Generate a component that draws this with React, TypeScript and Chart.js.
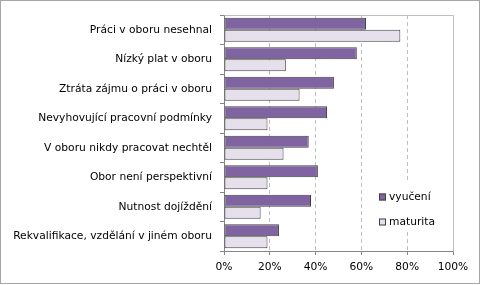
import React, { useEffect, useRef } from "react";
import { Chart, registerables } from "chart.js";

Chart.register(...registerables);

const categories = [
  "Práci v oboru nesehnal",
  "Nízký plat v oboru",
  "Ztráta zájmu o práci v oboru",
  "Nevyhovující pracovní podmínky",
  "V oboru nikdy pracovat nechtěl",
  "Obor není perspektivní",
  "Nutnost dojíždění",
  "Rekvalifikace, vzdělání v jiném oboru",
];
const vyuceni = [62, 58, 48, 45, 37, 41, 38, 24];
const maturita = [77, 27, 33, 19, 26, 19, 16, 19];
const seriesNames = ["vyučení", "maturita"];
const xTicks = [0, 20, 40, 60, 80, 100];

const FONT = "'DejaVu Sans', Verdana, sans-serif";
const COL_A = "#8064A2";
const COL_B = "#E6E0EC";
const EDGE = "#404040";

const framePlugin = {
  id: "frame",
  beforeDraw(chart: any) {
    const { ctx, width, height } = chart;
    ctx.save();
    ctx.fillStyle = "#ffffff";
    ctx.fillRect(0, 0, width, height);
    ctx.strokeStyle = "#A6A6A6";
    ctx.lineWidth = 1;
    ctx.strokeRect(0.5, 0.5, 479, 283);
    ctx.restore();
  },
  beforeDatasetsDraw(chart: any) {
    const { ctx, chartArea } = chart;
    ctx.save();
    ctx.strokeStyle = "#BFBFBF";
    ctx.lineWidth = 1;
    ctx.beginPath();
    ctx.moveTo(Math.round(chartArea.left) + 0.5, Math.round(chartArea.top) + 0.5);
    ctx.lineTo(Math.round(chartArea.right) + 0.5, Math.round(chartArea.top) + 0.5);
    ctx.lineTo(Math.round(chartArea.right) + 0.5, Math.round(chartArea.bottom) + 0.5);
    ctx.stroke();
    ctx.restore();
  },
  afterDatasetsDraw(chart: any) {
    const { ctx } = chart;
    ctx.save();
    ctx.fillStyle = "#ffffff";
    ctx.fillRect(375, 183, 70, 49);
    const items = [
      { label: seriesNames[0], color: COL_A, y: 197 },
      { label: seriesNames[1], color: COL_B, y: 222 },
    ];
    ctx.font = `10.7px ${FONT}`;
    ctx.textBaseline = "middle";
    ctx.textAlign = "left";
    for (const it of items) {
      ctx.fillStyle = it.color;
      ctx.fillRect(379, it.y - 3.5, 7, 7);
      ctx.strokeStyle = EDGE;
      ctx.lineWidth = 1;
      ctx.strokeRect(379.5, it.y - 3, 6, 6);
      ctx.fillStyle = "#000000";
      ctx.fillText(it.label, 389, it.y);
    }
    ctx.restore();
  },
};

export default function App() {
  const ref = useRef<HTMLCanvasElement>(null);
  useEffect(() => {
    if (!ref.current) return;
    const chart = new Chart(ref.current, {
      type: "bar",
      data: {
        labels: categories,
        datasets: [
          {
            label: seriesNames[0],
            data: vyuceni,
            backgroundColor: COL_A,
            borderColor: EDGE,
            borderWidth: 1,
            borderSkipped: false,
            categoryPercentage: 0.81,
            barPercentage: 1,
          },
          {
            label: seriesNames[1],
            data: maturita,
            backgroundColor: COL_B,
            borderColor: EDGE,
            borderWidth: 1,
            borderSkipped: false,
            categoryPercentage: 0.81,
            barPercentage: 1,
          },
        ],
      },
      options: {
        indexAxis: "y",
        animation: false,
        responsive: true,
        maintainAspectRatio: false,
        layout: { padding: { left: 0, right: 28, top: 15, bottom: 0 } },
        plugins: {
          legend: { display: false },
          tooltip: { enabled: false },
        },
        scales: {
          x: {
            min: 0,
            max: 100,
            afterBuildTicks(axis: any) {
              axis.ticks = xTicks.map((v) => ({ value: v }));
            },
            afterFit(axis: any) {
              axis.height = 34;
            },
            ticks: {
              padding: 6,
              color: "#000000",
              font: { family: FONT, size: 10.7 },
              callback: (v: any) => `${v}%`,
              maxRotation: 0,
            },
            grid: {
              color: (c: any) =>
                c.tick && (c.tick.value === 0 || c.tick.value === 100) ? "rgba(0,0,0,0)" : "#BFBFBF",
              tickColor: "#868686",
              tickLength: 4,
              lineWidth: 1,
            },
            border: { color: "#868686", dash: [4, 3] },
          },
          y: {
            afterFit(axis: any) {
              axis.width = 224;
            },
            ticks: {
              padding: 8,
              color: "#000000",
              font: { family: FONT, size: 10.7 },
              autoSkip: false,
            },
            grid: {
              offset: true,
              drawOnChartArea: false,
              tickColor: "#868686",
              tickLength: 4,
            },
            border: { color: "#868686" },
          },
        },
      },
      plugins: [framePlugin],
    } as any);
    return () => chart.destroy();
  }, []);
  return (
    <div style={{ position: "absolute", left: 0, top: 0, width: 481, height: 285 }}>
      <canvas ref={ref} />
    </div>
  );
}
